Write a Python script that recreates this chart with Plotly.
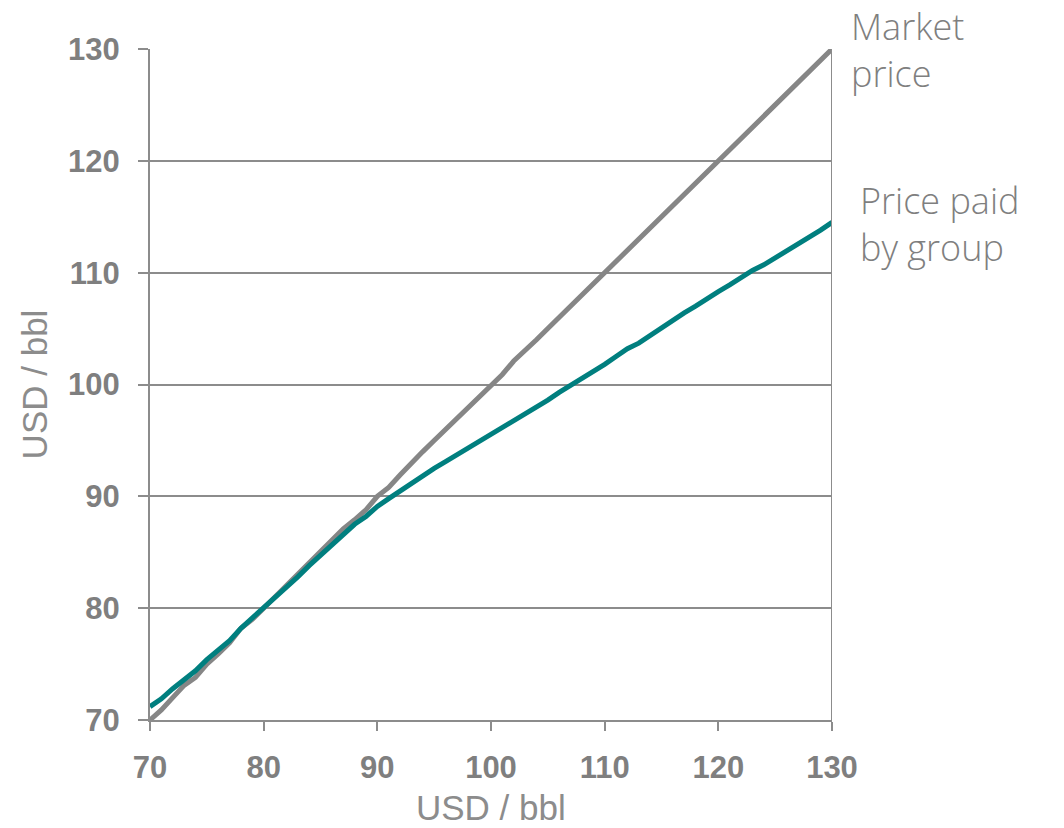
import plotly.graph_objects as go

# Market price (x axis) from 70 to 130 USD/bbl in 1-dollar steps
market_x = list(range(70, 131))

# Market price line (y against x)
market_price = [
    70.0, 70.9, 72.0, 73.1, 73.8, 75.0, 75.9, 76.9, 78.2, 79.0,
    80.0, 81.0, 82.0, 83.0, 84.0, 85.0, 86.0, 87.1, 87.9, 88.8,
    90.0, 90.8, 91.9, 93.0, 94.0, 95.0, 96.0, 97.0, 98.0, 98.9,
    100.0, 100.9, 102.1, 103.0, 104.0, 105.0, 106.0, 107.0, 108.1, 109.0,
    110.0, 111.1, 112.0, 113.0, 114.1, 115.0, 116.0, 117.0, 118.0, 119.0,
    120.0, 121.1, 122.0, 123.0, 124.0, 125.0, 126.0, 127.1, 128.0, 129.0,
    130.0,
]

# Price paid by the group
group_price = [
    71.2, 71.9, 72.8, 73.6, 74.4, 75.4, 76.2, 77.1, 78.2, 79.1,
    80.1, 81.0, 81.9, 82.8, 83.8, 84.7, 85.6, 86.6, 87.5, 88.2,
    89.1, 89.8, 90.5, 91.2, 91.9, 92.5, 93.1, 93.7, 94.3, 95.0,
    95.5, 96.2, 96.8, 97.4, 98.0, 98.6, 99.3, 99.9, 100.5, 101.1,
    101.8, 102.5, 103.2, 103.7, 104.4, 105.0, 105.7, 106.4, 107.0, 107.7,
    108.3, 108.9, 109.6, 110.2, 110.7, 111.3, 111.9, 112.6, 113.1, 113.8,
    114.5,
]

tick_vals = [70, 80, 90, 100, 110, 120, 130]
axis_title = "USD / bbl"

GRAY = "#868686"
TEAL = "#007f7f"
TEXT = "#7f7f7f"
TITLE = "#8c8c8c"

fig = go.Figure()
fig.add_trace(go.Scatter(x=market_x, y=market_price, mode="lines",
                         line=dict(color=GRAY, width=5), name="Market price"))
fig.add_trace(go.Scatter(x=market_x, y=group_price, mode="lines",
                         line=dict(color=TEAL, width=5), name="Price paid by group"))

axis_common = dict(
    range=[70, 130], tickvals=tick_vals, ticks="outside", automargin=False,
    tickcolor="#8c8c8c", tickwidth=2, showline=True, linecolor="#8c8c8c",
    linewidth=2, zeroline=False,
    tickfont=dict(family="Liberation Sans, Arial", size=31, color=TEXT, weight="bold"),
)

fig.update_xaxes(**axis_common, ticklen=9, showgrid=False, ticklabelstandoff=10)
fig.update_yaxes(**axis_common, ticklen=10, showgrid=True, gridcolor="#8c8c8c", gridwidth=2,
                 ticklabelstandoff=12,
                 title=dict(text=axis_title, standoff=10,
                            font=dict(family="Liberation Sans, Arial", size=35, color=TITLE)))

# x-axis title, placed just under the tick labels
fig.add_annotation(x=0.5, y=-0.1305, xref="paper", yref="paper", text=axis_title,
                   showarrow=False, xanchor="center", yanchor="middle",
                   font=dict(family="Liberation Sans, Arial", size=35, color=TITLE))

# Right-hand border of the plot area
fig.add_shape(type="line", xref="x", yref="paper", x0=130, x1=130, y0=0, y1=1,
              line=dict(color="#8c8c8c", width=2))

# Series labels to the right of the line ends
label_font = dict(family="Open Sans, sans-serif", size=36, color=TEXT, weight=300)
fig.add_annotation(x=130, y=0.999, xref="x", yref="paper", text="Market<br>price",
                   showarrow=False, xanchor="left", yanchor="middle",
                   xshift=17, align="left", font=label_font)
fig.add_annotation(x=130, y=0.7385, xref="x", yref="paper", text="Price paid<br>by group",
                   showarrow=False, xanchor="left", yanchor="middle",
                   xshift=26, align="left", font=label_font)

fig.update_layout(
    width=1064, height=828,
    margin=dict(l=150, r=232, t=49, b=108),
    plot_bgcolor="white", paper_bgcolor="white",
    showlegend=False,
)

fig.write_html("out.html")
